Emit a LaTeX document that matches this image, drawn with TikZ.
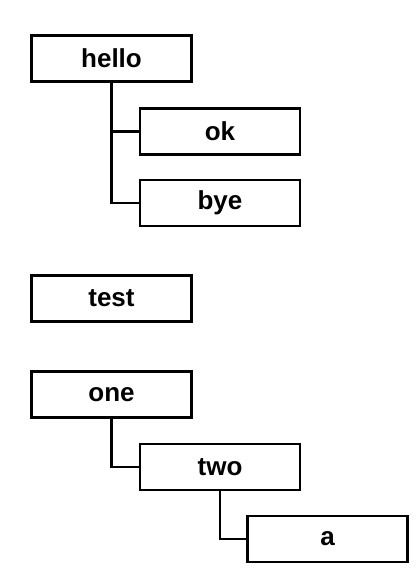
\documentclass[tikz,border=0pt]{standalone}
\usepackage{fontspec}
\setmainfont{Liberation Sans}
\usepackage{tikz}

\begin{document}
\begin{tikzpicture}[x=1pt, y=1pt,
    tbox/.style={draw, line width=2.4pt, minimum width=160pt, minimum height=46pt,
      inner sep=0pt, font=\fontsize{26}{30}\selectfont\bfseries},
    link/.style={line width=2.4pt}]
  \useasboundingbox (0,0) rectangle (419,581);
  \node[tbox] (hello) at (111.5,522.5) {hello};
  \node[tbox] (ok) at (220,449.5) {ok};
  \node[tbox] (bye) at (220,378) {bye};
  \node[tbox] (test) at (111.5,282.5) {test};
  \node[tbox] (one) at (111.5,186.5) {one};
  \node[tbox] (two) at (220,114) {two};
  \node[tbox] (a) at (327.5,42) {a};
  \draw[link] (hello.south) |- (ok.west);
  \draw[link] (hello.south) |- (bye.west);
  \draw[link] (one.south) |- (two.west);
  \draw[link] (two.south) |- (a.west);
\end{tikzpicture}
\end{document}
